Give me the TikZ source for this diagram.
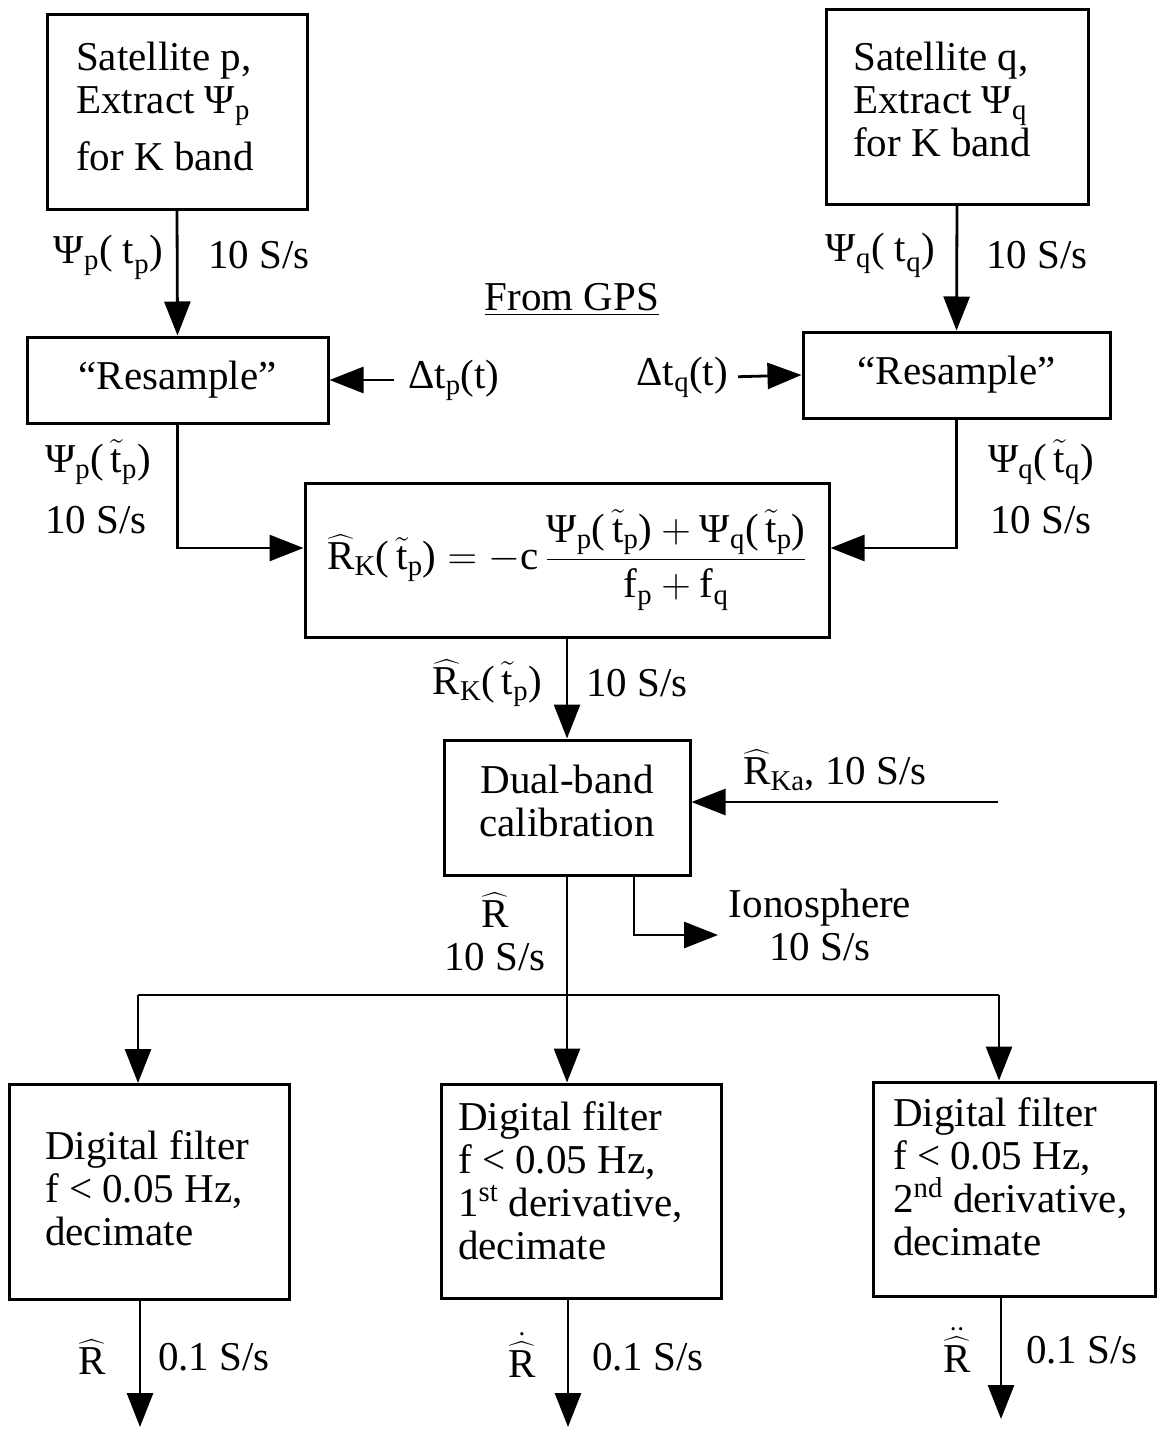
\RequirePackage{fix-cm}
\documentclass[tikz,border=0pt]{standalone}
\usepackage{amsmath}
\usepackage{fontspec}
\setmainfont{Liberation Serif}
\usetikzlibrary{arrows.meta}
\newcommand{\tx}[1]{\text{#1}}
\newcommand{\Rh}{\widehat{\text{R}}}
\newcommand{\tpt}{\,\tilde{\text{t}}_{\text{p}}}
\begin{document}
\begin{tikzpicture}[x=1pt,y=-1pt,
  every node/.style={font=\fontsize{41}{43}\selectfont, inner sep=0pt},
  box/.style={draw, line width=3pt},
  boxtext/.style={align=left, anchor=west},
  line/.style={line width=2.8pt},
  arr/.style={line width=2.8pt, -{Triangle[length=34pt,width=26pt]}},
]
\useasboundingbox (0,0) rectangle (1157,1431);

% boxes
\node[box, minimum width=260pt, minimum height=195pt] (satp) at (177,112) {};
\node[boxtext] (satpt) at (76,106)
  {Satellite p,\\Extract $\tx{Ψ}_{\tx{p}}$\\[14pt]for K band};
\node[box, minimum width=262pt, minimum height=195pt] (satq) at (957,107) {};
\node[boxtext] (satqt) at (853,99)
  {Satellite q,\\Extract $\tx{Ψ}_{\tx{q}}$\\[0pt]for K band};
\node[box, minimum width=301pt, minimum height=86pt] (resp) at (177.5,380) {“Resample”};
\node[box, minimum width=307pt, minimum height=86pt] (resq) at (956.5,375) {“Resample”};
\node[box, minimum width=524pt, minimum height=154pt] (form) at (567,560)
  {$\Rh_{\tx{K}}\tx{(}\tpt\tx{)} = -\tx{c}\,\dfrac{\tx{Ψ}_{\tx{p}}\tx{(}\tpt\tx{)} + \tx{Ψ}_{\tx{q}}\tx{(}\tpt\tx{)}}{\tx{f}_{\tx{p}} + \tx{f}_{\tx{q}}}$};
\node[box, minimum width=246pt, minimum height=135pt] (dbc) at (567,807.5) {};
\node[align=center] (dbct) at (567,801) {Dual-band\\calibration};
\node[box, minimum width=280pt, minimum height=215pt] (f1) at (149,1192) {};
\node[boxtext] (f1t) at (45,1188) {Digital filter\\f < 0.05 Hz,\\decimate};
\node[box, minimum width=280pt, minimum height=214pt] (f2) at (581,1191) {};
\node[boxtext] (f2t) at (458,1181)
  {Digital filter\\f < 0.05 Hz,\\1\textsuperscript{st} derivative,\\decimate};
\node[box, minimum width=282pt, minimum height=214pt] (f3) at (1014,1189) {};
\node[boxtext] (f3t) at (893,1177)
  {Digital filter\\f < 0.05 Hz,\\2\textsuperscript{nd} derivative,\\decimate};

% labels
\node[anchor=east] (lpp) at (163,257) {$\tx{Ψ}_{\tx{p}}\tx{( t}_{\tx{p}}\tx{)}$};
\node[anchor=west] (lrp) at (208,255) {10 S/s};
\node[anchor=east] (lpq) at (935,255) {$\tx{Ψ}_{\tx{q}}\tx{( t}_{\tx{q}}\tx{)}$};
\node[anchor=west] (lrq) at (986,255) {10 S/s};
\node (gps) at (572,300) {\underline{From GPS}};
\node[anchor=west] (dtp) at (408,380) {$\tx{Δt}_{\tx{p}}\tx{(t)}$};
\node[anchor=east] (dtq) at (728,377) {$\tx{Δt}_{\tx{q}}\tx{(t)}$};
\node[anchor=west] (lpp2) at (45,462) {$\tx{Ψ}_{\tx{p}}\tx{(}\tpt\tx{)}$};
\node[anchor=west] (lrp2) at (45,520) {10 S/s};
\node[anchor=west] (lpq2) at (988,462) {$\tx{Ψ}_{\tx{q}}\tx{(}\,\tilde{\tx{t}}_{\tx{q}}\tx{)}$};
\node[anchor=west] (lrq2) at (990,520) {10 S/s};
\node[anchor=east] (lrk) at (542,683) {$\Rh_{\tx{K}}\tx{(}\tpt\tx{)}$};
\node[anchor=west] (lrk2) at (586,683) {10 S/s};
\node[anchor=west] (lka) at (743,770) {$\Rh_{\tx{Ka}}$, 10 S/s};
\node[align=center] (lr) at (495,932) {$\Rh$\\10 S/s};
\node[align=center] (ion) at (820,925) {Ionosphere\\10 S/s};
\node (o1l) at (92,1357) {$\Rh$};
\node[anchor=west] (o1r) at (158,1357) {0.1 S/s};
\node (o2l) at (522,1355) {$\dot{\Rh}$};
\node[anchor=west] (o2r) at (592,1357) {0.1 S/s};
\node (o3l) at (957,1350) {$\ddot{\Rh}$};
\node[anchor=west] (o3r) at (1026,1350) {0.1 S/s};

% coordinates
\coordinate (kas) at (998,802);
\coordinate (iontip) at (718,935);
\coordinate (busL) at (138,995);
\coordinate (busR) at (999,995);
\coordinate (o1) at (140,1427);
\coordinate (o2) at (568,1427);
\coordinate (o3) at (1001,1419);

% connectors
\draw[arr] (satp.south) -- (resp.north);
\draw[arr] (satq.south) -- (resq.north);
\draw[arr, shorten <=14pt] (dtp.west) -- (resp.east);
\draw[arr, shorten <=10pt] (dtq.east) -- (resq.west);
\draw[arr] (resp.south) |- ([yshift=12pt]form.west);
\draw[arr] (resq.south) |- ([yshift=12pt]form.east);
\draw[arr] (form.south) -- (dbc.north);
\draw[arr] (kas) -- (kas -| dbc.east);
\draw[arr] ([xshift=67pt]dbc.south) |- (iontip);
\draw[arr] (dbc.south) -- (dbc.south |- f2.north);
\draw[line] (busL) -- (busR);
\draw[arr] (busL) -- (busL |- f1.north);
\draw[arr] (busR) -- (busR |- f3.north);
\draw[arr] (o1 |- f1.south) -- (o1);
\draw[arr] (o2 |- f2.south) -- (o2);
\draw[arr] (o3 |- f3.south) -- (o3);
\end{tikzpicture}
\end{document}
